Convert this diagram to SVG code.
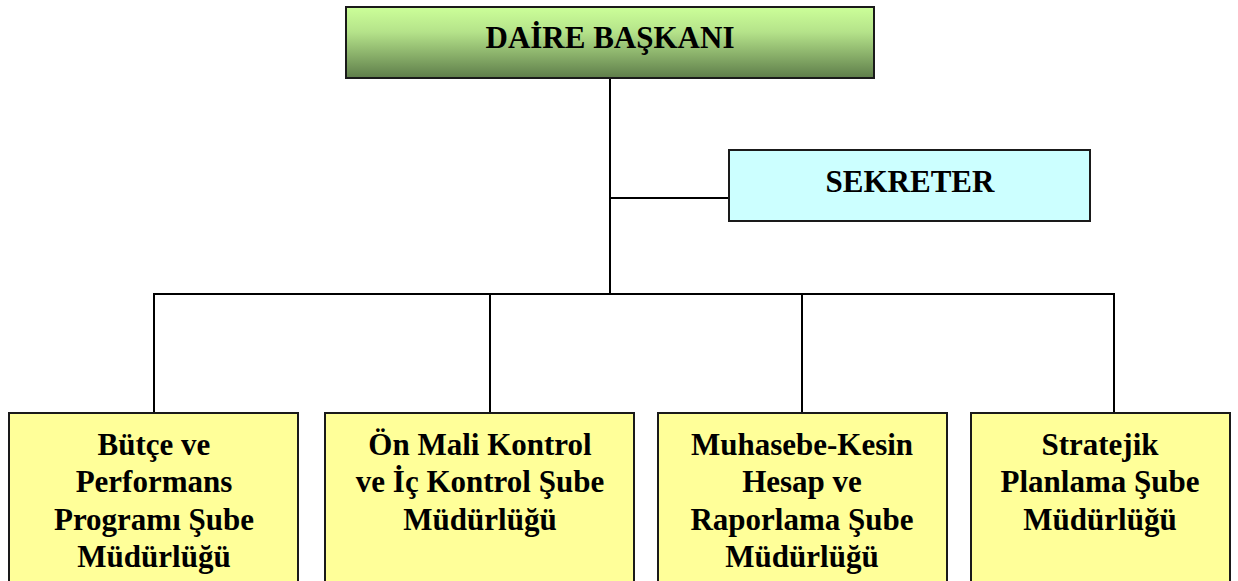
<svg xmlns="http://www.w3.org/2000/svg" width="1238" height="581" viewBox="0 0 1238 581">
  <defs>
    <linearGradient id="gTop" x1="0" y1="0" x2="0" y2="1">
      <stop offset="0" stop-color="#ccff99"/>
      <stop offset="0.35" stop-color="#b5e38a"/>
      <stop offset="1" stop-color="#5e7d4a"/>
    </linearGradient>
  </defs>
  <style>
    .box { stroke: #1a1a1a; stroke-width: 2; }
    .unit { fill: #ffff99; }
    .t { font-family: 'Liberation Serif', 'DejaVu Serif', serif; font-weight: 700; font-size: 31px; fill: #000; text-anchor: middle; }
    .c { stroke: #000; stroke-width: 2; fill: none; }
  </style>
  <rect width="1238" height="581" fill="#fff"/>
  <g id="connectors">
    <line class="c" x1="610" y1="78" x2="610" y2="294"/>
    <line class="c" x1="610" y1="198" x2="729" y2="198"/>
    <line class="c" x1="153" y1="294" x2="1115" y2="294"/>
    <line class="c" x1="154" y1="294" x2="154" y2="413"/>
    <line class="c" x1="490" y1="294" x2="490" y2="413"/>
    <line class="c" x1="802" y1="294" x2="802" y2="413"/>
    <line class="c" x1="1114" y1="294" x2="1114" y2="413"/>
  </g>
  <g id="daire-baskani">
    <rect class="box" x="346" y="7" width="528" height="71" fill="url(#gTop)"/>
    <text class="t" x="610" y="48">DAİRE BAŞKANI</text>
  </g>
  <g id="sekreter">
    <rect class="box" x="729" y="150" width="361" height="71" fill="#ccffff"/>
    <text class="t" x="910" y="192">SEKRETER</text>
  </g>
  <g id="butce">
    <rect class="box unit" x="9" y="413" width="289" height="180"/>
    <text class="t" x="154" y="455">Bütçe ve</text>
    <text class="t" x="154" y="492">Performans</text>
    <text class="t" x="154" y="530">Programı Şube</text>
    <text class="t" x="154" y="567">Müdürlüğü</text>
  </g>
  <g id="on-mali">
    <rect class="box unit" x="325" y="413" width="309" height="180"/>
    <text class="t" x="480" y="455">Ön Mali Kontrol</text>
    <text class="t" x="480" y="492">ve İç Kontrol Şube</text>
    <text class="t" x="480" y="530">Müdürlüğü</text>
  </g>
  <g id="muhasebe">
    <rect class="box unit" x="658" y="413" width="289" height="180"/>
    <text class="t" x="802" y="455">Muhasebe-Kesin</text>
    <text class="t" x="802" y="492">Hesap ve</text>
    <text class="t" x="802" y="530">Raporlama Şube</text>
    <text class="t" x="802" y="567">Müdürlüğü</text>
  </g>
  <g id="stratejik">
    <rect class="box unit" x="971" y="413" width="259" height="180"/>
    <text class="t" x="1100" y="455">Stratejik</text>
    <text class="t" x="1100" y="492">Planlama Şube</text>
    <text class="t" x="1100" y="530">Müdürlüğü</text>
  </g>
</svg>
